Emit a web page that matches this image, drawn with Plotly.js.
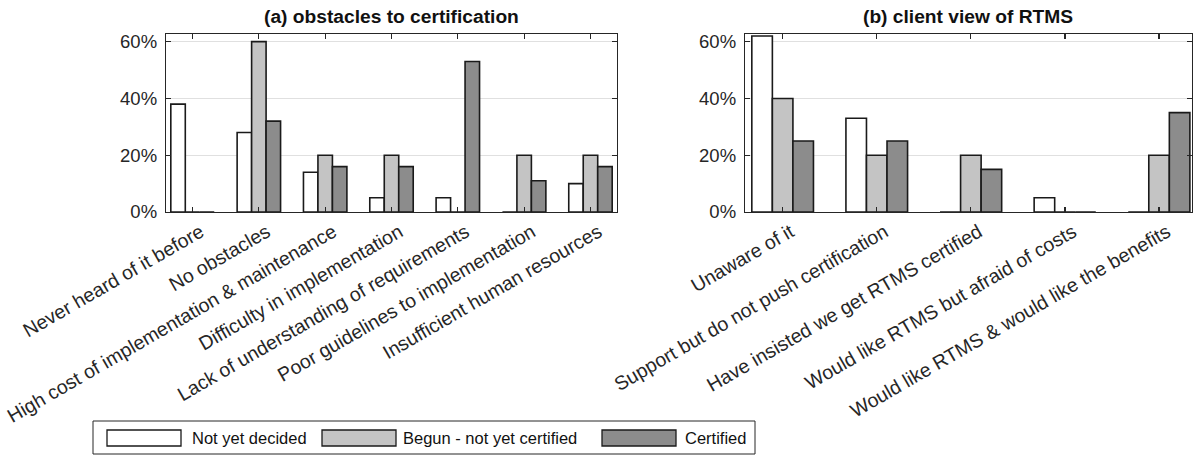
<!DOCTYPE html>
<html><head><meta charset="utf-8">
<script src="https://cdn.plot.ly/plotly-3.0.1.min.js"></script>
<style>html,body{margin:0;padding:0;background:#fff}#chart{width:1194px;height:455px}</style>
</head><body><div id="chart"></div>
<script>
const seriesNames = ['Not yet decided', 'Begun - not yet certified', 'Certified'];
const seriesColors = ['#ffffff', '#c4c4c4', '#8c8c8c'];

const obstacleCategories = ['Never heard of it before', 'No obstacles', 'High cost of implementation & maintenance', 'Difficulty in implementation', 'Lack of understanding of requirements', 'Poor guidelines to implementation', 'Insufficient human resources'];
const obstaclesNotYet = [0.38, 0.28, 0.14, 0.05, 0.05, 0, 0.10];
const obstaclesBegun = [0, 0.60, 0.20, 0.20, 0, 0.20, 0.20];
const obstaclesCertified = [0, 0.32, 0.16, 0.16, 0.53, 0.11, 0.16];

const clientCategories = ['Unaware of it', 'Support but do not push certification', 'Have insisted we get RTMS certified', 'Would like RTMS but afraid of costs', 'Would like RTMS & would like the benefits'];
const clientNotYet = [0.62, 0.33, 0, 0.05, 0];
const clientBegun = [0.40, 0.20, 0.20, 0, 0.20];
const clientCertified = [0.25, 0.25, 0.15, 0, 0.35];

const panelTitles = ['(a) obstacles to certification', '(b) client view of RTMS'];
const yTickVals = [0, 0.2, 0.4, 0.6];
const yTickText = ['0%', '20%', '40%', '60%'];

const W = 1194, H = 455;
const px = x => x / W;
const py = y => 1 - y / H;
const FONT = 'Liberation Sans, Arial, sans-serif';
const TXT = '#262626';

const panels = [
  {cats: obstacleCategories, vals: [obstaclesNotYet, obstaclesBegun, obstaclesCertified], xa: 'x', ya: 'y'},
  {cats: clientCategories, vals: [clientNotYet, clientBegun, clientCertified], xa: 'x2', ya: 'y2'}
];

const traces = [];
panels.forEach(p => {
  p.vals.forEach((v, i) => {
    traces.push({
      type: 'bar', x: p.cats, y: v, name: seriesNames[i],
      xaxis: p.xa, yaxis: p.ya, showlegend: false, hoverinfo: 'skip',
      marker: {color: seriesColors[i], line: {color: '#1a1a1a', width: 1.6}}
    });
  });
});

function xAxis(domain, n) {
  return {
    domain: domain, type: 'category', range: [-0.4, n - 0.6],
    showline: true, linecolor: TXT, linewidth: 1.2, mirror: 'ticks',
    ticks: 'inside', ticklen: 5, tickcolor: TXT, tickwidth: 1.2,
    tickangle: -30, tickfont: {family: FONT, size: 19.5, color: TXT},
    ticklabelshift: 8,
    showgrid: false, zeroline: false, fixedrange: true
  };
}
function yAxis(domain, anchor) {
  return {
    domain: domain, anchor: anchor, range: [0, 0.627],
    tickvals: yTickVals, ticktext: yTickText,
    showline: true, linecolor: TXT, linewidth: 1.2, mirror: 'ticks',
    ticks: 'inside', ticklen: 5, tickcolor: TXT, tickwidth: 1.2,
    tickfont: {family: FONT, size: 18.5, color: TXT},
    showgrid: true, gridcolor: '#e0e0e0', gridwidth: 1.3,
    zeroline: false, fixedrange: true, ticklabelstandoff: 4
  };
}

const yDom = [py(212), py(34)];
const x1Dom = [px(166), px(617)];
const x2Dom = [px(745), px(1192)];

const annotations = panelTitles.map((t, i) => ({
  text: '<b>' + t + '</b>', xref: 'paper', yref: 'paper',
  x: i === 0 ? (x1Dom[0] + x1Dom[1]) / 2 : (x2Dom[0] + x2Dom[1]) / 2,
  y: py(17), xanchor: 'center', yanchor: 'middle', showarrow: false,
  font: {family: FONT, size: 19.2, color: '#111'}
}));

// custom legend (wide swatches as in the reference)
const shapes = [{
  type: 'rect', xref: 'paper', yref: 'paper',
  x0: px(93), x1: px(755), y0: py(454), y1: py(421),
  line: {color: TXT, width: 1}, fillcolor: '#ffffff'
}];
const swatchX = [107, 322, 602];
const labelX = [190, 401, 683];
seriesNames.forEach((n, i) => {
  shapes.push({
    type: 'rect', xref: 'paper', yref: 'paper',
    x0: px(swatchX[i]), x1: px(swatchX[i] + 74), y0: py(446), y1: py(430),
    line: {color: '#1a1a1a', width: 1.3}, fillcolor: seriesColors[i]
  });
  annotations.push({
    text: n, xref: 'paper', yref: 'paper', x: px(labelX[i]), y: py(438),
    xanchor: 'left', yanchor: 'middle', showarrow: false,
    font: {family: FONT, size: 16.5, color: '#111'}
  });
});

const layout = {
  width: W, height: H, margin: {l: 0, r: 0, t: 0, b: 0},
  paper_bgcolor: '#ffffff', plot_bgcolor: '#ffffff',
  barmode: 'group', bargap: 0.345, bargroupgap: 0,
  font: {family: FONT, color: TXT},
  xaxis: xAxis(x1Dom, obstacleCategories.length),
  yaxis: yAxis(yDom, 'x'),
  xaxis2: xAxis(x2Dom, clientCategories.length),
  yaxis2: yAxis(yDom, 'x2'),
  annotations: annotations, shapes: shapes, showlegend: false
};
layout.xaxis2.range = [-0.4, 4.35];

Plotly.newPlot('chart', traces, layout, {displayModeBar: false, staticPlot: true});
</script></body></html>
